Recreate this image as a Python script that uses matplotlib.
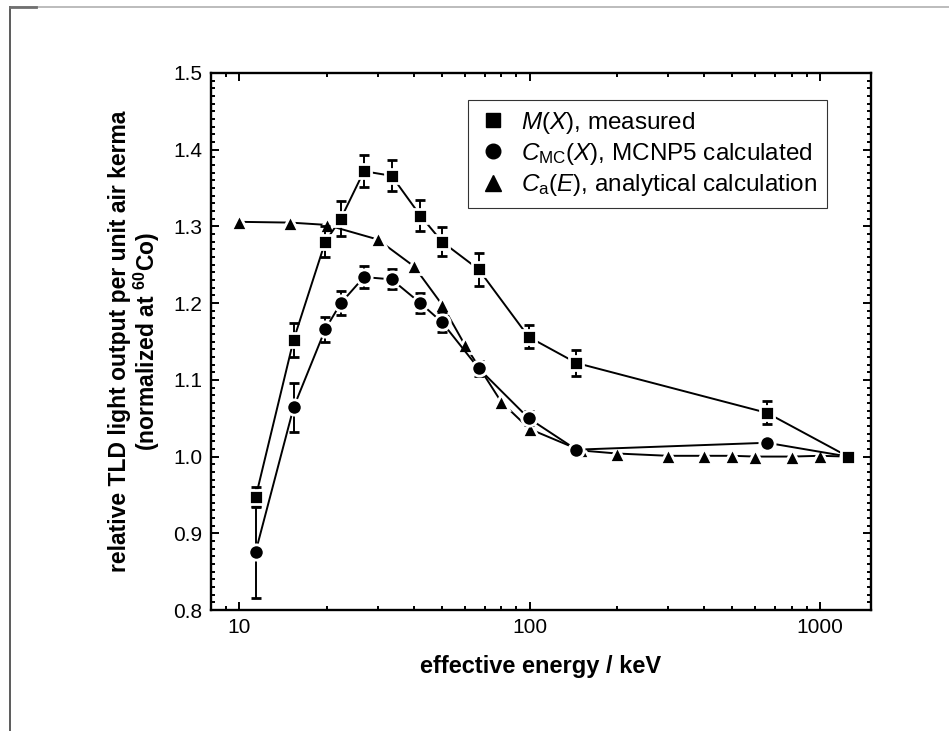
import numpy as np
import matplotlib
matplotlib.use("Agg")
import matplotlib.pyplot as plt
from matplotlib.lines import Line2D
from matplotlib.ticker import FixedLocator, NullFormatter, MultipleLocator

plt.rcParams["font.family"] = ["Liberation Sans", "DejaVu Sans"]
plt.rcParams["mathtext.fontset"] = "custom"
plt.rcParams["mathtext.rm"] = "Liberation Sans"
plt.rcParams["mathtext.it"] = "Liberation Sans:italic"
plt.rcParams["mathtext.bf"] = "Liberation Sans:bold"

# measured M(X)
e_meas   = [11.4, 15.4, 19.8, 22.4, 26.9, 33.5, 42.1, 50.0, 66.8, 99.3, 145, 657, 1250]
m_meas   = [0.947, 1.152, 1.280, 1.310, 1.372, 1.366, 1.314, 1.280, 1.244, 1.156, 1.122, 1.057, 1.000]
err_meas = [0.013, 0.022, 0.020, 0.023, 0.021, 0.020, 0.020, 0.019, 0.022, 0.015, 0.017, 0.015, 0.0]

# MCNP5 calculated C_MC(X)
e_mc   = [11.4, 15.4, 19.8, 22.4, 26.9, 33.5, 42.1, 50.0, 66.8, 99.3, 145, 657, 1250]
c_mc   = [0.876, 1.064, 1.166, 1.200, 1.234, 1.231, 1.200, 1.175, 1.115, 1.050, 1.009, 1.018, 1.000]
err_mc = [0.060, 0.032, 0.016, 0.016, 0.014, 0.013, 0.013, 0.013, 0.010, 0.009, 0.008, 0.008, 0.0]

# analytical C_a(E)
e_an = [10, 15, 20, 30, 40, 50, 60, 80, 100, 150, 200, 300, 400, 500, 600, 800, 1000, 1250]
c_an = [1.306, 1.305, 1.302, 1.283, 1.248, 1.198, 1.145, 1.071, 1.036, 1.008, 1.004, 1.001,
        1.001, 1.001, 1.000, 1.000, 1.001, 1.000]

labels = [r"$M$($X$), measured",
          r"$C_{\mathrm{MC}}$($X$), MCNP5 calculated",
          r"$C_{\mathrm{a}}$($E$), analytical calculation"]

fig = plt.figure(figsize=(9.49, 7.31), dpi=100)
ax = fig.add_axes([211 / 949, 1 - 610 / 731, 660 / 949, 537 / 731])

lw = 1.4
style = dict(color="black", lw=lw, mec="white", mew=2.0,
             ecolor="black", elinewidth=lw, capsize=3.3, capthick=lw)

ax.errorbar(e_an, c_an, marker="^", ms=12, zorder=2, **style)
ax.errorbar(e_mc, c_mc, yerr=err_mc, marker="o", ms=11, zorder=3, **style)
ax.errorbar(e_meas, m_meas, yerr=err_meas, marker="s", ms=10.5, zorder=4, **style)

ax.set_xscale("log")
ax.set_xlim(8, 1500)
ax.set_ylim(0.8, 1.5)
ax.xaxis.set_major_locator(FixedLocator([10, 100, 1000]))
ax.set_xticklabels(["10", "100", "1000"])
minors = [m * d for d in (1, 10, 100, 1000) for m in range(2, 10)]
ax.xaxis.set_minor_locator(FixedLocator(minors))
ax.xaxis.set_minor_formatter(NullFormatter())
ax.yaxis.set_major_locator(MultipleLocator(0.1))
ax.yaxis.set_minor_locator(MultipleLocator(0.01))
ax.set_yticklabels([f"{v:.1f}" for v in ax.get_yticks()])

ax.tick_params(which="both", direction="in", top=True, right=True, width=1.4,
               labelsize=15, pad=6)
ax.tick_params(which="major", length=5.5)
ax.tick_params(which="minor", length=2.8)
for s in ax.spines.values():
    s.set_linewidth(1.7)

ax.set_xlabel("effective energy / keV", fontsize=17, fontweight="bold", labelpad=13)
ax.set_ylabel("relative TLD light output per unit air kerma\n"
              r"(normalized at $^{\mathbf{60}}$Co)",
              fontsize=16.5, fontweight="bold", labelpad=8, linespacing=1.05)

handles = [Line2D([], [], ls="none", marker="s", color="black", ms=9.5),
           Line2D([], [], ls="none", marker="o", color="black", ms=10.5),
           Line2D([], [], ls="none", marker="^", color="black", ms=11)]
leg = ax.legend(handles, labels, loc="upper left", bbox_to_anchor=(0.389, 0.95),
                fontsize=17.5, frameon=True, fancybox=False, borderpad=0.4,
                handletextpad=0.5, labelspacing=0.22, handlelength=1.3,
                borderaxespad=0)
leg.get_frame().set_edgecolor("black")
leg.get_frame().set_linewidth(0.8)

# page frame lines of the original scan
fig.add_artist(Line2D([10 / 949, 1], [1 - 7 / 731, 1 - 7 / 731],
                      transform=fig.transFigure, color="#b0b0b0", lw=1.2))
fig.add_artist(Line2D([10 / 949, 10 / 949], [0, 1 - 7 / 731],
                      transform=fig.transFigure, color="#404040", lw=1.2))
fig.add_artist(Line2D([10 / 949, 36 / 949], [1 - 7 / 731, 1 - 7 / 731],
                      transform=fig.transFigure, color="#707070", lw=2))

fig.savefig("out.png", dpi=100)
